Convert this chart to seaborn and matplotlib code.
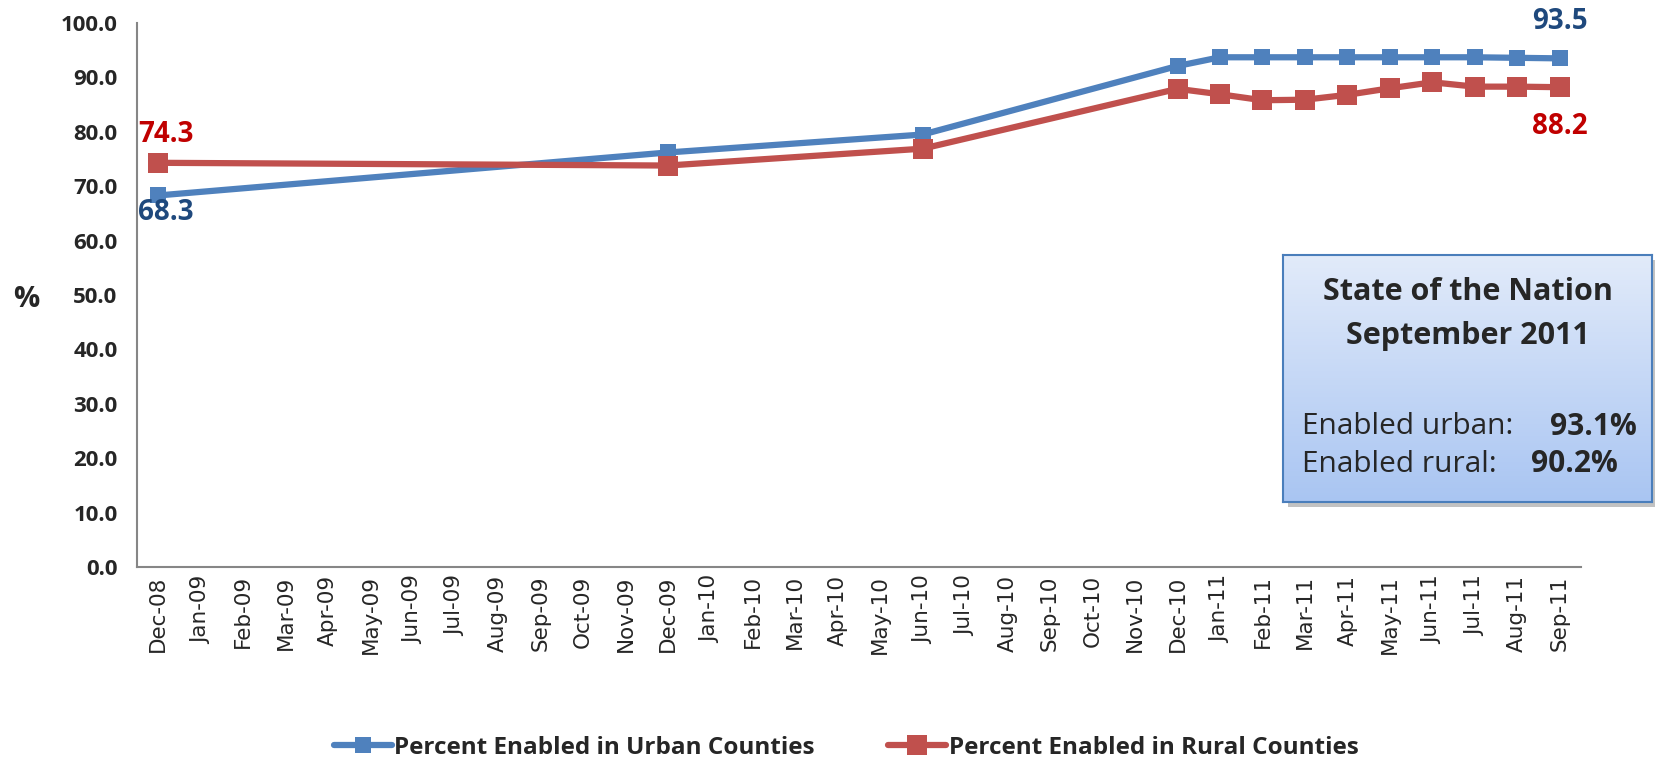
import numpy as np
import pandas as pd
import matplotlib
matplotlib.use("Agg")
import matplotlib.pyplot as plt
import seaborn as sns
from matplotlib.patches import Rectangle
from matplotlib.colors import LinearSegmentedColormap

# ---------------- data ----------------
months = ["Dec-08", "Jan-09", "Feb-09", "Mar-09", "Apr-09", "May-09", "Jun-09", "Jul-09",
          "Aug-09", "Sep-09", "Oct-09", "Nov-09", "Dec-09", "Jan-10", "Feb-10", "Mar-10",
          "Apr-10", "May-10", "Jun-10", "Jul-10", "Aug-10", "Sep-10", "Oct-10", "Nov-10",
          "Dec-10", "Jan-11", "Feb-11", "Mar-11", "Apr-11", "May-11", "Jun-11", "Jul-11",
          "Aug-11", "Sep-11"]
obs_months = ["Dec-08", "Dec-09", "Jun-10", "Dec-10", "Jan-11", "Feb-11", "Mar-11", "Apr-11",
              "May-11", "Jun-11", "Jul-11", "Aug-11", "Sep-11"]
urban = [68.3, 76.2, 79.5, 92.1, 93.7, 93.7, 93.7, 93.7, 93.7, 93.7, 93.7, 93.6, 93.5]
rural = [74.3, 73.8, 76.9, 87.9, 86.9, 85.8, 85.9, 86.8, 88.0, 89.1, 88.3, 88.3, 88.2]
series_names = ["Percent Enabled in Urban Counties", "Percent Enabled in Rural Counties"]
y_ticks = [0, 10, 20, 30, 40, 50, 60, 70, 80, 90, 100]
box_title = ["State of the Nation", "September 2011"]
box_lines = [("Enabled urban:", "93.1%"), ("Enabled rural:", "90.2%")]

blue = "#4F81BD"
red = "#C0504D"
blue_lab = "#1F497D"
red_lab = "#C00000"

sns.set_theme(style="white")
plt.rcParams["font.family"] = ["Open Sans", "DejaVu Sans"]

W, H = 1656, 761
fig = plt.figure(figsize=(W / 100, H / 100), dpi=100)
ax = fig.add_axes([137 / W, 1 - 567 / H, (1581 - 137) / W, (567 - 23) / H])

xpos = [months.index(m) for m in obs_months]
df = pd.DataFrame({
    "x": xpos * 2,
    "value": urban + rural,
    "series": [series_names[0]] * len(urban) + [series_names[1]] * len(rural),
})

sns.lineplot(data=df[df.series == series_names[0]], x="x", y="value", ax=ax,
             color=blue, lw=4.5, marker="s", markersize=11, markeredgewidth=0,
             label=series_names[0], legend=False)
sns.lineplot(data=df[df.series == series_names[1]], x="x", y="value", ax=ax,
             color=red, lw=4.5, marker="s", markersize=15, markeredgewidth=0,
             label=series_names[1], legend=False)

ax.set_xlim(-0.5, len(months) - 0.5)
ax.set_ylim(0, 100)
ax.set_yticks(y_ticks)
ax.set_yticklabels([f"{v:.1f}" for v in y_ticks], fontsize=16, fontweight="bold")
ax.set_xticks(range(len(months)))
ax.set_xticklabels(months, rotation=90, fontsize=15.5, family="DejaVu Sans")
ax.set_xticks(np.arange(-0.5, len(months), 1), minor=True)
ax.tick_params(axis="x", which="major", length=0, pad=6)
ax.tick_params(axis="x", which="minor", length=8, width=1.5, color="#868686", direction="out")
ax.tick_params(axis="y", which="major", length=8, width=1.5, color="#868686", direction="out", pad=6)
ax.set_xlabel("")
ax.set_ylabel("")
for s in ["top", "right"]:
    ax.spines[s].set_visible(False)
for s in ["left", "bottom"]:
    ax.spines[s].set_color("#868686")
    ax.spines[s].set_linewidth(1.5)
ax.grid(False)

fig.text(26 / W, 1 - 300 / H, "%", fontsize=21, fontweight="bold", ha="center", va="center")

# data labels
lab_kw = dict(textcoords="offset pixels", ha="center", va="center", fontsize=20, fontweight="bold")
ax.annotate(f"{urban[-1]:.1f}", (xpos[-1], urban[-1]), xytext=(0, 37), color=blue_lab, **lab_kw)
ax.annotate(f"{rural[-1]:.1f}", (xpos[-1], rural[-1]), xytext=(0, -39), color=red_lab, **lab_kw)
ax.annotate(f"{rural[0]:.1f}", (xpos[0], rural[0]), xytext=(8, 28), color=red_lab, **lab_kw)
ax.annotate(f"{urban[0]:.1f}", (xpos[0], urban[0]), xytext=(8, -17), color=blue_lab, **lab_kw)

# legend
handles = ax.get_lines()[:2]
leg = fig.legend(handles, series_names, loc="center", bbox_to_anchor=(846 / W, 1 - 748 / H),
                 ncol=2, frameon=False, columnspacing=3.0, handlelength=2.4, handletextpad=0.1,
                 prop={"family": ["Open Sans"], "weight": "bold", "size": 17.5})

# info box with gradient and shadow
bx0, by0, bx1, by1 = 1283, 255, 1652, 502
shadow = Rectangle(((bx0 + 5) / W, 1 - (by1 + 5) / H), (bx1 - bx0) / W, (by1 - by0) / H,
                   transform=fig.transFigure, facecolor="#9A9A9A", alpha=0.6, edgecolor="none", zorder=5)
fig.patches.append(shadow)
bax = fig.add_axes([bx0 / W, 1 - by1 / H, (bx1 - bx0) / W, (by1 - by0) / H], zorder=6)
grad = np.linspace(0, 1, 256).reshape(-1, 1)
cmap = LinearSegmentedColormap.from_list("g", ["#E2EBFA", "#A9C5F2"])
bax.imshow(grad, aspect="auto", cmap=cmap, extent=[0, 1, 1, 0])
bax.set_xlim(0, 1)
bax.set_ylim(1, 0)
bax.set_xticks([])
bax.set_yticks([])
for s in bax.spines.values():
    s.set_color("#4A7EBB")
    s.set_linewidth(1.5)

cx = (bx0 + bx1) / 2
fig.text(cx / W, 1 - 292 / H, box_title[0], fontsize=22, fontweight="bold", ha="center", va="center", zorder=7)
fig.text(cx / W, 1 - 336 / H, box_title[1], fontsize=22, fontweight="bold", ha="center", va="center", zorder=7)
split_x = [1550, 1531]
line_y = [427, 464]
for (lab, val), sx, ly in zip(box_lines, split_x, line_y):
    fig.text(1302 / W, 1 - ly / H, lab, fontsize=21.5, ha="left", va="center", zorder=7)
    fig.text(sx / W, 1 - ly / H, val, fontsize=21.5, fontweight="bold", ha="left", va="center", zorder=7)

fig.savefig("out.png", dpi=100)
